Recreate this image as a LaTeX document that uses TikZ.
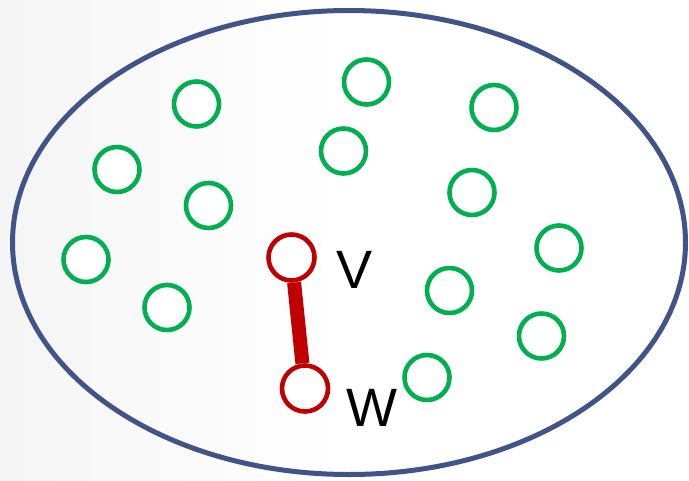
\documentclass[tikz,border=0pt]{standalone}
\usepackage{fontspec}
\setmainfont{Liberation Sans}
\definecolor{ringblue}{RGB}{65,84,138}
\definecolor{vgreen}{RGB}{0,176,80}
\definecolor{vred}{RGB}{192,0,0}
\begin{document}
\begin{tikzpicture}[x=1pt,y=-1pt,
  gnode/.style={circle,draw=vgreen,line width=4.6pt,minimum size=45pt,inner sep=0pt,fill=white},
  rnode/.style={circle,draw=vred,line width=4.6pt,minimum size=46pt,inner sep=0pt,fill=white},
  lab/.style={anchor=base west,inner sep=0pt,font=\fontsize{54}{54}\selectfont}]
\useasboundingbox (0,0) rectangle (689,480);
\fill[white] (0,0) rectangle (689,480);
\shade[left color=black!4,right color=white] (0,0) rectangle (340,480);
\draw[ringblue,line width=5pt] (349,242.5) ellipse [x radius=336.5,y radius=232];
\node[gnode] (g1) at (196.5,104) {};
\node[gnode] (g2) at (366.5,82) {};
\node[gnode] (g3) at (494,107.5) {};
\node[gnode] (g4) at (117,169.5) {};
\node[gnode] (g5) at (343.5,151) {};
\node[gnode] (g6) at (472,192.5) {};
\node[gnode] (g7) at (208.5,205.5) {};
\node[gnode] (g8) at (86,259.5) {};
\node[gnode] (g9) at (559,248) {};
\node[gnode] (g10) at (167,307.5) {};
\node[gnode] (g11) at (449.5,290.5) {};
\node[gnode] (g12) at (541.5,336) {};
\node[gnode] (g13) at (427,377.5) {};
\node[rnode] (v) at (291.5,257.5) {};
\node[rnode] (w) at (305,388.5) {};
\draw[vred,line width=14pt] (v) -- (w);
\node[lab] (vl) at (336,288) {V};
\node[lab] (wl) at (346,426.5) {W};
\end{tikzpicture}
\end{document}
